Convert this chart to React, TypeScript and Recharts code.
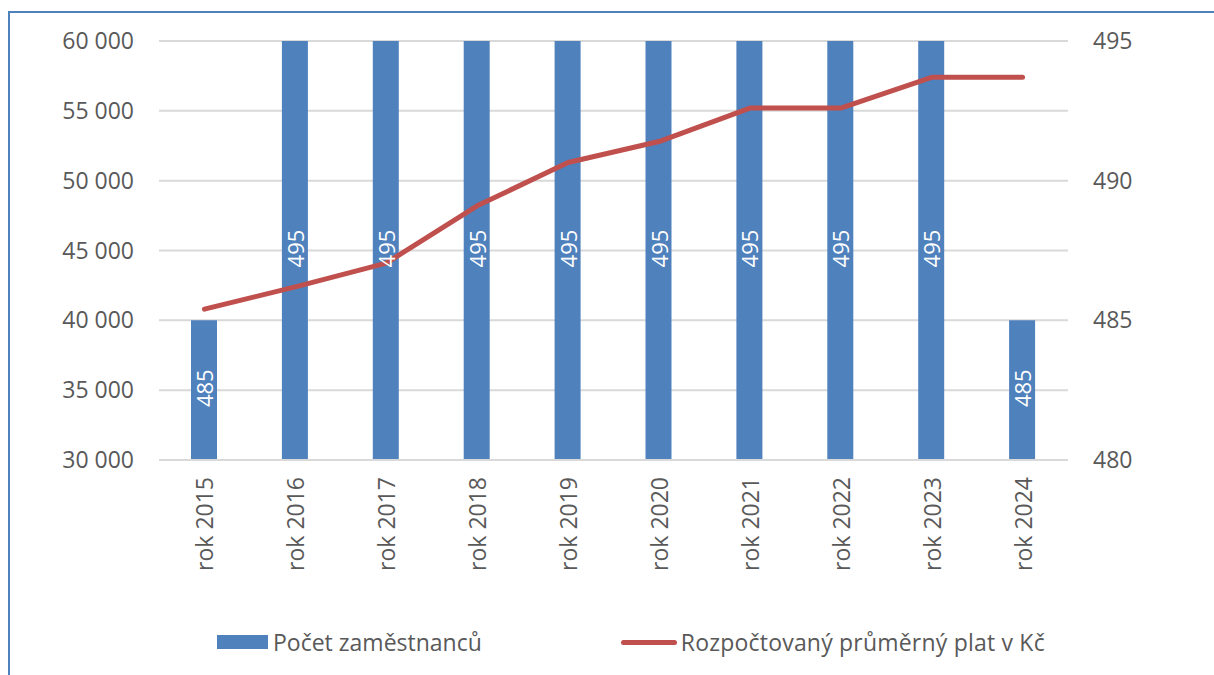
import { ComposedChart, Bar, Line, XAxis, YAxis, CartesianGrid, Legend, LabelList } from "recharts";

// categories + series
const years = ["rok 2015", "rok 2016", "rok 2017", "rok 2018", "rok 2019", "rok 2020", "rok 2021", "rok 2022", "rok 2023", "rok 2024"];
const employees = [485, 495, 495, 495, 495, 495, 495, 495, 495, 485];
const avgSalary = [40800, 42400, 44100, 48200, 51300, 52800, 55200, 55200, 57400, 57400];

const leftTicks = [30000, 35000, 40000, 45000, 50000, 55000, 60000];
const rightTicks = [480, 485, 490, 495];

const BLUE = "#4F81BD";
const RED = "#C0504D";
const TXT = "#595959";
const FONT = "'Open Sans', sans-serif";

const data = years.map((y, i) => ({ year: y, employees: employees[i], salary: avgSalary[i] }));

const fmt = (v: number) => String(v).replace(/\B(?=(\d{3})+(?!\d))/g, " ");

const XTick = ({ x, y, payload }: any) => (
  <text
    x={x}
    y={y}
    transform={`rotate(-90, ${x}, ${y})`}
    textAnchor="end"
    dominantBaseline="central"
    fill={TXT}
    fontSize={23}
    fontFamily={FONT}
  >
    {payload.value}
  </text>
);

const BarLabel = ({ x, y, width, height, value }: any) => {
  const cx = x + width / 2;
  const cy = y + height / 2 - 2;
  return (
    <text
      x={cx}
      y={cy}
      transform={`rotate(-90, ${cx}, ${cy})`}
      textAnchor="middle"
      dominantBaseline="central"
      fill="#fff"
      fontSize={22}
      fontFamily={FONT}
    >
      {value}
    </text>
  );
};

const LegendBox = () => (
  <div style={{ height: 60, display: "flex", alignItems: "center", paddingLeft: 217, paddingBottom: 6, boxSizing: "border-box", fontFamily: FONT, fontSize: 23, color: TXT }}>
    <div style={{ display: "flex", alignItems: "center" }}>
      <span style={{ width: 51, height: 14, background: BLUE, marginRight: 5 }} />
      <span>Počet zaměstnanců</span>
    </div>
    <div style={{ display: "flex", alignItems: "center", marginLeft: 139 }}>
      <span style={{ width: 56, height: 5, borderRadius: 3, background: RED, marginRight: 4 }} />
      <span style={{ letterSpacing: 0.2 }}>Rozpočtovaný průměrný plat v Kč</span>
    </div>
  </div>
);

export default function App() {
  return (
    <div style={{ position: "absolute", left: 0, top: 0, width: 1214, height: 675, background: "#fff", overflow: "hidden" }}>
      <div
        style={{
          position: "absolute",
          left: 8,
          top: 11,
          width: 1300,
          height: 800,
          borderLeft: `2px solid ${BLUE}`,
          borderTop: `2px solid ${BLUE}`,
        }}
      />
      <ComposedChart
        width={1214}
        height={675}
        data={data}
        margin={{ top: 41, right: 0, bottom: 0, left: 0 }}
        barSize={26}
        style={{ position: "absolute", left: 0, top: 0 }}
      >
        <CartesianGrid yAxisId="left" vertical={false} stroke="#D9D9D9" strokeWidth={2} />
        <XAxis
          dataKey="year"
          height={155}
          tickSize={0}
          tickMargin={17}
          tick={<XTick />}
          axisLine={{ stroke: "#D9D9D9", strokeWidth: 2 }}
          tickLine={false}
          interval={0}
        />
        <YAxis
          yAxisId="left"
          orientation="left"
          width={159}
          domain={[30000, 60000]}
          ticks={leftTicks}
          tickFormatter={fmt}
          tickSize={0}
          tickMargin={25}
          axisLine={false}
          tickLine={false}
          tick={{ fill: TXT, fontSize: 23, fontFamily: FONT }}
        />
        <YAxis
          yAxisId="right"
          orientation="right"
          width={146}
          domain={[480, 495]}
          ticks={rightTicks}
          tickSize={0}
          tickMargin={25}
          axisLine={false}
          tickLine={false}
          tick={{ fill: TXT, fontSize: 23, fontFamily: FONT }}
        />
        <Bar yAxisId="right" dataKey="employees" name="Počet zaměstnanců" fill={BLUE} isAnimationActive={false}>
          <LabelList dataKey="employees" content={<BarLabel />} />
        </Bar>
        <Line
          yAxisId="left"
          dataKey="salary"
          name="Rozpočtovaný průměrný plat v Kč"
          stroke={RED}
          strokeWidth={5}
          strokeLinecap="round"
          strokeLinejoin="round"
          dot={false}
          activeDot={false}
          type="linear"
          isAnimationActive={false}
        />
        <Legend verticalAlign="bottom" align="left" content={<LegendBox />} />
      </ComposedChart>
    </div>
  );
}
